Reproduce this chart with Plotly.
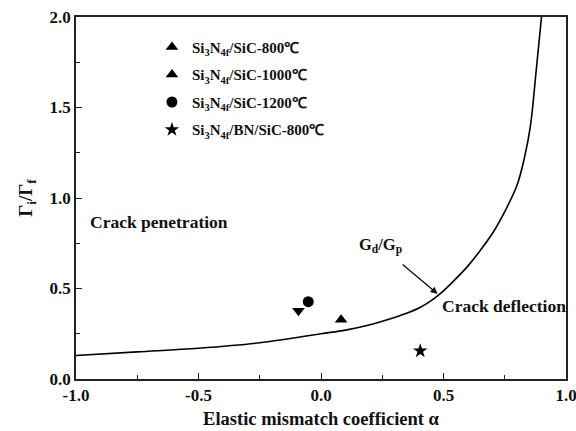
import plotly.graph_objects as go

# Gd/Gp boundary curve
curve_x = [-1.0, -0.75, -0.5, -0.25, 0.0, 0.1, 0.2, 0.3, 0.35, 0.4, 0.45, 0.5, 0.55, 0.6,
           0.65, 0.7, 0.75, 0.8, 0.83, 0.855, 0.878, 0.9]
curve_y = [0.13, 0.15, 0.17, 0.20, 0.25, 0.27, 0.30, 0.34, 0.363, 0.392, 0.433, 0.487, 0.553,
           0.625, 0.71, 0.805, 0.925, 1.07, 1.22, 1.40, 1.70, 2.0]

# experimental points
series_names = ["Si<sub>3</sub>N<sub>4f</sub>/SiC-800℃",
                "Si<sub>3</sub>N<sub>4f</sub>/SiC-1000℃",
                "Si<sub>3</sub>N<sub>4f</sub>/SiC-1200℃",
                "Si<sub>3</sub>N<sub>4f</sub>/BN/SiC-800℃"]
point_x = [-0.092, 0.082, -0.052, 0.405]
point_y = [0.377, 0.327, 0.427, 0.155]
point_symbols = ["triangle-down", "triangle-up", "circle", "star"]
legend_symbols = ["triangle-up", "triangle-up", "circle", "star"]

x_ticks = [-1.0, -0.5, 0.0, 0.5, 1.0]
y_ticks = [0.0, 0.5, 1.0, 1.5, 2.0]

FONT = "Liberation Serif"

fig = go.Figure()
fig.add_trace(go.Scatter(x=curve_x, y=curve_y, mode="lines",
                         line=dict(color="black", width=1.6, shape="spline", smoothing=1.0),
                         showlegend=False, hoverinfo="skip"))

for i in range(len(series_names)):
    fig.add_trace(go.Scatter(x=[point_x[i]], y=[point_y[i]], mode="markers",
                             marker=dict(symbol=point_symbols[i], size=11, color="black"),
                             showlegend=False))
for i in range(len(series_names)):
    fig.add_trace(go.Scatter(x=[None], y=[None], mode="markers",
                             name="<b>" + series_names[i] + "</b>",
                             legendgroup=str(i),
                             marker=dict(symbol=legend_symbols[i], size=11, color="black"),
                             showlegend=True))

axis_common = dict(showline=True, linecolor="#222", linewidth=1.6, mirror=True,
                   ticks="inside", ticklen=6, tickwidth=1.4, tickcolor="#222",
                   showgrid=False, zeroline=False, automargin=False,
                   ticklabeloverflow="allow",
                   tickfont=dict(family=FONT, size=17, color="#111"),
                   minor=dict(ticks="inside", ticklen=4, tickwidth=1.2, tickcolor="#222"))

fig.update_xaxes(range=[-1, 1], tickvals=x_ticks,
                 ticktext=[f"<b>{v:.1f}</b>" for v in x_ticks],
                 minor_dtick=0.25, minor_tick0=-1,
                 title=dict(text="<b>Elastic mismatch coefficient α</b>",
                            font=dict(family=FONT, size=18.5, color="#111"), standoff=8),
                 **axis_common)
fig.update_yaxes(range=[0, 2], tickvals=y_ticks,
                 ticktext=[f"<b>{v:.1f}</b>" for v in y_ticks],
                 minor_dtick=0.25, minor_tick0=0,
                 title=dict(text="<b>Γ<sub>i</sub>/Γ<sub>f</sub></b>",
                            font=dict(family=FONT, size=19, color="#111"), standoff=12),
                 **axis_common)

fig.update_layout(
    width=576, height=431,
    margin=dict(l=76, r=10, t=17, b=52),
    plot_bgcolor="white", paper_bgcolor="white",
    font=dict(family=FONT, color="#111", size=14),
    legend=dict(x=0.155, y=0.962, xanchor="left", yanchor="top",
                bgcolor="rgba(0,0,0,0)", tracegroupgap=5,
                font=dict(family=FONT, size=15, color="#111")),
    annotations=[
        dict(x=-0.951, y=0.867, xref="x", yref="y", text="<b>Crack penetration</b>",
             showarrow=False, xanchor="left", yanchor="middle",
             font=dict(family=FONT, size=17.5, color="#111")),
        dict(x=0.487, y=0.403, xref="x", yref="y", text="<b>Crack deflection</b>",
             showarrow=False, xanchor="left", yanchor="middle",
             font=dict(family=FONT, size=17.5, color="#111")),
        dict(x=0.147, y=0.735, xref="x", yref="y", text="<b>G<sub>d</sub>/G<sub>p</sub></b>",
             showarrow=False, xanchor="left", yanchor="middle",
             font=dict(family=FONT, size=16.5, color="#111")),
        dict(x=0.476, y=0.47, ax=0.327, ay=0.64, xref="x", yref="y", axref="x", ayref="y",
             text="", showarrow=True, arrowhead=2, arrowsize=1, arrowwidth=1.4,
             arrowcolor="#111"),
    ],
)

fig.write_html("out.html")
